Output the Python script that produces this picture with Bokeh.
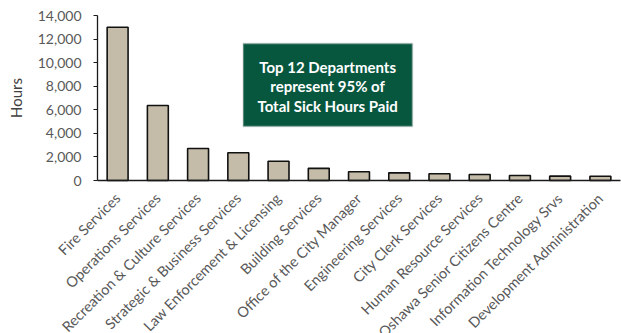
import math
from bokeh.plotting import figure
from bokeh.models import Range1d, FixedTicker, NumeralTickFormatter, BoxAnnotation, Label, ColumnDataSource
from bokeh.embed import file_html
from bokeh.resources import INLINE

departments = [
    "Fire Services", "Operations Services", "Recreation & Culture Services",
    "Strategic & Business Services", "Law Enforcement & Licensing", "Building Services",
    "Office of the City Manager", "Engineering Services", "City Clerk Services",
    "Human Resource Services", "Oshawa Senior Citizens Centre",
    "Information Technology Srvs", "Development Administration",
]
hours = [13000, 6370, 2720, 2360, 1630, 1030, 740, 650, 570, 510, 430, 370, 360]
y_ticks = [0, 2000, 4000, 6000, 8000, 10000, 12000, 14000]
callout_lines = ["Top 12 Departments", "represent 95% of", "Total Sick Hours Paid"]

FONT = "Lato"
W, H = 621, 333
# pixel layout of the plotting area inside the canvas
PLOT_L, PLOT_R, PLOT_T, PLOT_B = 97, 620, 15, 180
Y_MAX = 14000

n = len(departments)
cat_pos = [i + 0.5 for i in range(n)]           # centre of each category slot
ux = (PLOT_R - PLOT_L) / n                       # px per category
uy = (PLOT_B - PLOT_T) / Y_MAX                   # px per hour

p = figure(
    width=W, height=H, output_backend="svg", toolbar_location=None,
    x_range=Range1d(-PLOT_L / ux, n + (W - PLOT_R) / ux),
    y_range=Range1d(-(H - PLOT_B) / uy, Y_MAX + PLOT_T / uy),
    min_border_left=0, min_border_right=0, min_border_top=0, min_border_bottom=0,
)
p.outline_line_color = None
p.xgrid.grid_line_color = None
p.ygrid.grid_line_color = None
p.background_fill_color = "white"
p.border_fill_color = "white"

src = ColumnDataSource(data=dict(x=cat_pos, dept=departments, hours=hours))
p.vbar(x="x", top="hours", width=0.52, bottom=0, source=src,
       fill_color="#c4bca9", line_color="#111111", line_width=1.6)

# y axis, drawn at the left edge of the category area
ya = p.yaxis[0]
ya.fixed_location = 0
ya.bounds = (0, Y_MAX)
ya.ticker = FixedTicker(ticks=y_ticks)
ya.formatter = NumeralTickFormatter(format="0,0")
ya.axis_line_color = "#1a1a1a"
ya.axis_line_width = 1.3
ya.major_tick_line_color = "#1a1a1a"
ya.major_tick_in = 0
ya.major_tick_out = 4
ya.minor_tick_line_color = None
ya.major_label_standoff = 12
ya.major_label_text_font = FONT
ya.major_label_text_font_size = "14px"
ya.major_label_text_color = "#595959"
ya.axis_label = "Hours"
ya.axis_label_text_font = FONT
ya.axis_label_text_font_style = "normal"
ya.axis_label_text_font_size = "15px"
ya.axis_label_text_color = "#404040"
ya.axis_label_standoff = 10

# category axis at hours = 0
xa = p.xaxis[0]
xa.fixed_location = 0
xa.bounds = (0, n)
xa.ticker = FixedTicker(ticks=cat_pos)
xa.major_label_overrides = {pos: name for pos, name in zip(cat_pos, departments)}
xa.major_label_orientation = math.pi / 4
xa.major_label_standoff = 9
xa.major_label_text_font = FONT
xa.major_label_text_font_size = "14.5px"
xa.major_label_text_color = "#595959"
xa.axis_line_color = "#1a1a1a"
xa.axis_line_width = 1.3
xa.major_tick_line_color = None
xa.minor_tick_line_color = None

# callout box
box = BoxAnnotation(left=3.62, right=7.83, bottom=4590, top=11630,
                    fill_color="#07573f", fill_alpha=1.0,
                    line_color="#bfbfbf", line_width=2)
p.add_layout(box)
for txt, yy in zip(callout_lines, [9630, 7990, 6280]):
    p.add_layout(Label(x=5.72, y=yy, text=txt, text_align="center", text_baseline="middle",
                       text_font=FONT, text_font_style="bold", text_font_size="15px",
                       text_color="white"))

open("out.html", "w").write(file_html(p, INLINE))
